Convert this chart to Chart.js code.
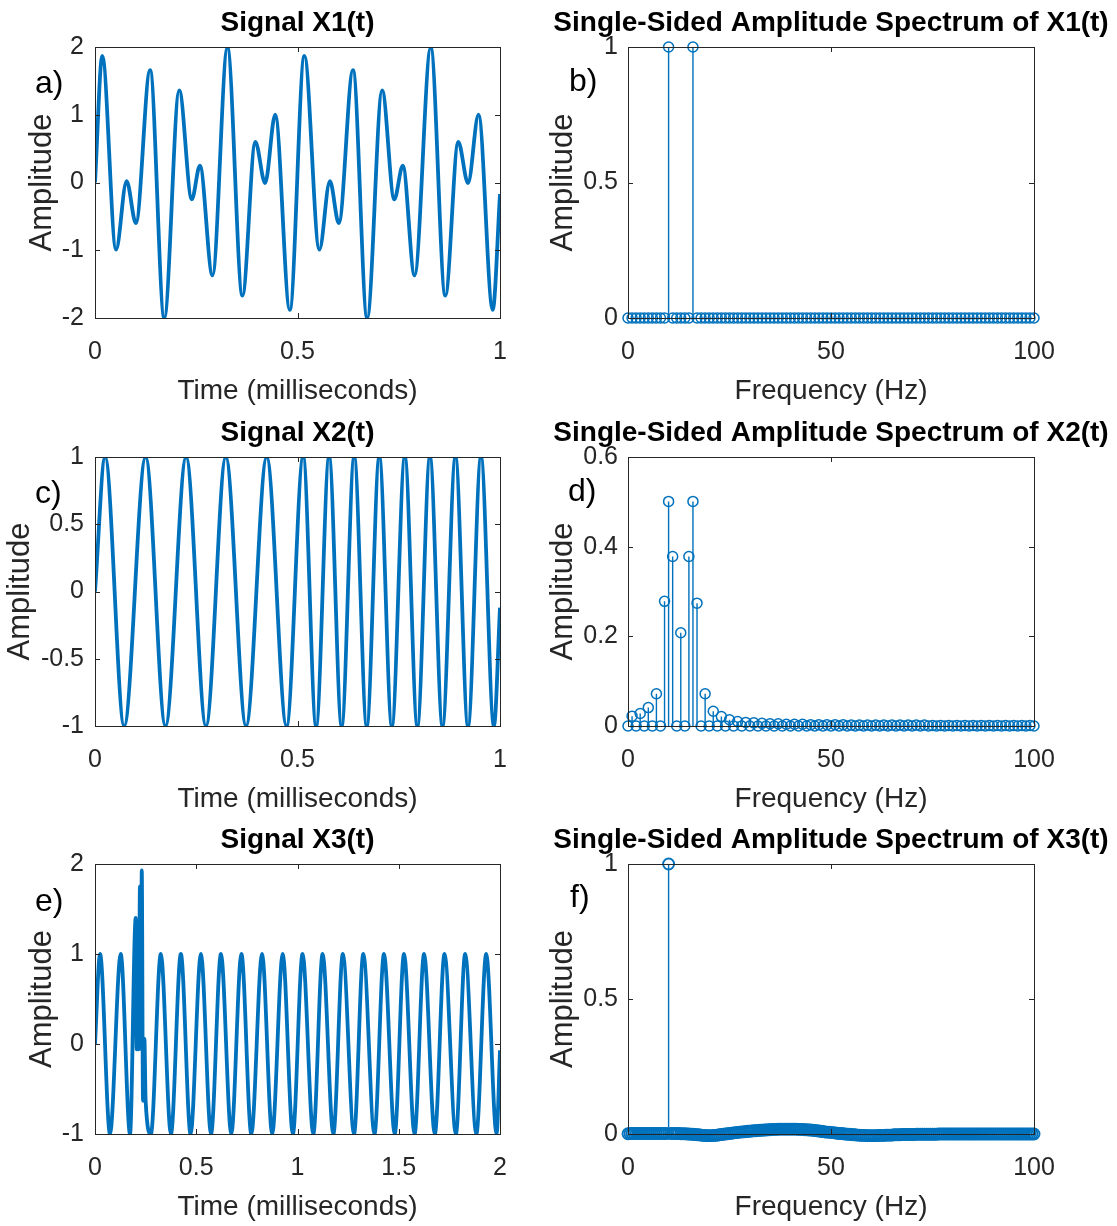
<!DOCTYPE html>
<html>
<head>
<meta charset="utf-8">
<script src="https://cdn.jsdelivr.net/npm/chart.js@4.4.0/dist/chart.umd.min.js"></script>
<style>
  html, body { margin: 0; padding: 0; background: #fff; }
  body { width: 1117px; height: 1226px; position: relative; overflow: hidden; font-family: 'Liberation Sans', Arial, sans-serif; }
  canvas { position: absolute; }
  .tag { position: absolute; font-size: 32px; line-height: 32px; color: #000; }
</style>
</head>
<body>
<canvas id="pa" width="595" height="410" style="left:0px;top:0px"></canvas>
<canvas id="pb" width="572" height="410" style="left:545px;top:0px"></canvas>
<canvas id="pc" width="595" height="408" style="left:0px;top:410px"></canvas>
<canvas id="pd" width="572" height="408" style="left:545px;top:410px"></canvas>
<canvas id="pe" width="595" height="409" style="left:0px;top:817px"></canvas>
<canvas id="pf" width="572" height="409" style="left:545px;top:817px"></canvas>
<div class="tag" style="left:35px;top:66px">a)</div>
<div class="tag" style="left:569px;top:64px">b)</div>
<div class="tag" style="left:35px;top:476px">c)</div>
<div class="tag" style="left:568px;top:474px">d)</div>
<div class="tag" style="left:35px;top:884px">e)</div>
<div class="tag" style="left:570px;top:880px">f)</div>
<script>
// signal X1(t): turning points (time in ms)
const x1Time = [0, 0.018, 0.052, 0.078, 0.101, 0.136, 0.171, 0.208, 0.239, 0.259, 0.29, 0.327, 0.364, 0.396, 0.42, 0.445, 0.481,
                0.517, 0.554, 0.58, 0.602, 0.637, 0.672, 0.709, 0.739, 0.76, 0.789, 0.829, 0.865, 0.897, 0.921, 0.947, 0.982, 1.0];
const x1Amp  = [0, 1.87, -0.99, 0.02, -0.6, 1.66, -2.0, 1.36, -0.25, 0.25, -1.37, 1.99, -1.67, 0.6, -0.01, 1.0, -1.88,
                1.87, -0.99, 0.02, -0.6, 1.66, -2.0, 1.36, -0.25, 0.25, -1.37, 1.99, -1.67, 0.6, -0.01, 1.0, -1.88, -0.17];

// signal X2(t)
const x2Time = [0, 0.025, 0.072, 0.125, 0.174, 0.225, 0.274, 0.323, 0.373, 0.424, 0.473, 0.514, 0.546, 0.578, 0.609,
                0.64, 0.671, 0.702, 0.733, 0.765, 0.796, 0.827, 0.858, 0.89, 0.921, 0.953, 0.985, 1.0];
const x2Amp  = [0, 1, -1, 1, -1, 1, -1, 1, -1, 1, -1, 1, -1, 1, -1,
                1, -1, 1, -1, 1, -1, 1, -1, 1, -1, 1, -1, -0.12];

// signal X3(t), with the burst near 0.2 ms
const x3Time = [0, 0.025, 0.074, 0.127, 0.173,
                0.201, 0.206, 0.211, 0.216, 0.222, 0.226, 0.231, 0.237, 0.244, 0.25,
                0.276, 0.325, 0.375, 0.424, 0.472, 0.523, 0.573, 0.622, 0.673, 0.723, 0.772, 0.825, 0.875, 0.927, 0.977,
                1.025, 1.078, 1.124, 1.177, 1.224, 1.279, 1.325, 1.38, 1.427, 1.48, 1.526, 1.578, 1.625, 1.678, 1.726,
                1.782, 1.828, 1.883, 1.932, 1.983, 2.0];
const x3Amp  = [0, 1, -1, 1, -1,
                1.4, -0.06, 1.36, -0.06, 1.75, -0.05, 1.93, -0.63, 0.06, -0.63,
                -1, 1, -1, 1, -1, 1, -1, 1, -1, 1, -1, 1, -1, 1, -1,
                1, -1, 1, -1, 1, -1, 1, -1, 1, -1, 1, -1, 1, -1, 1,
                -1, 1, -1, 1, -1, -0.07];

// spectrum bins (Hz)
const freq1Hz = [0, 1, 2, 3, 4, 5, 6, 7, 8, 9, 10, 11, 12, 13, 14, 15, 16, 17, 18, 19,
                 20, 21, 22, 23, 24, 25, 26, 27, 28, 29, 30, 31, 32, 33, 34, 35, 36, 37, 38, 39,
                 40, 41, 42, 43, 44, 45, 46, 47, 48, 49, 50, 51, 52, 53, 54, 55, 56, 57, 58, 59,
                 60, 61, 62, 63, 64, 65, 66, 67, 68, 69, 70, 71, 72, 73, 74, 75, 76, 77, 78, 79,
                 80, 81, 82, 83, 84, 85, 86, 87, 88, 89, 90, 91, 92, 93, 94, 95, 96, 97, 98, 99, 100];
const freqHalfHz = [0, 0.5, 1, 1.5, 2, 2.5, 3, 3.5, 4, 4.5, 5, 5.5, 6, 6.5, 7, 7.5, 8, 8.5, 9, 9.5,
                    10, 10.5, 11, 11.5, 12, 12.5, 13, 13.5, 14, 14.5, 15, 15.5, 16, 16.5, 17, 17.5, 18, 18.5, 19, 19.5,
                    20, 20.5, 21, 21.5, 22, 22.5, 23, 23.5, 24, 24.5, 25, 25.5, 26, 26.5, 27, 27.5, 28, 28.5, 29, 29.5,
                    30, 30.5, 31, 31.5, 32, 32.5, 33, 33.5, 34, 34.5, 35, 35.5, 36, 36.5, 37, 37.5, 38, 38.5, 39, 39.5,
                    40, 40.5, 41, 41.5, 42, 42.5, 43, 43.5, 44, 44.5, 45, 45.5, 46, 46.5, 47, 47.5, 48, 48.5, 49, 49.5,
                    50, 50.5, 51, 51.5, 52, 52.5, 53, 53.5, 54, 54.5, 55, 55.5, 56, 56.5, 57, 57.5, 58, 58.5, 59, 59.5,
                    60, 60.5, 61, 61.5, 62, 62.5, 63, 63.5, 64, 64.5, 65, 65.5, 66, 66.5, 67, 67.5, 68, 68.5, 69, 69.5,
                    70, 70.5, 71, 71.5, 72, 72.5, 73, 73.5, 74, 74.5, 75, 75.5, 76, 76.5, 77, 77.5, 78, 78.5, 79, 79.5,
                    80, 80.5, 81, 81.5, 82, 82.5, 83, 83.5, 84, 84.5, 85, 85.5, 86, 86.5, 87, 87.5, 88, 88.5, 89, 89.5,
                    90, 90.5, 91, 91.5, 92, 92.5, 93, 93.5, 94, 94.5, 95, 95.5, 96, 96.5, 97, 97.5, 98, 98.5, 99, 99.5, 100];

// single-sided amplitude spectra
const x1Spec = [0, 0, 0, 0, 0, 0, 0, 0, 0, 0,  1, 0, 0, 0, 0, 0, 1, 0, 0, 0,
                0, 0, 0, 0, 0, 0, 0, 0, 0, 0,  0, 0, 0, 0, 0, 0, 0, 0, 0, 0,
                0, 0, 0, 0, 0, 0, 0, 0, 0, 0,  0, 0, 0, 0, 0, 0, 0, 0, 0, 0,
                0, 0, 0, 0, 0, 0, 0, 0, 0, 0,  0, 0, 0, 0, 0, 0, 0, 0, 0, 0,
                0, 0, 0, 0, 0, 0, 0, 0, 0, 0,  0, 0, 0, 0, 0, 0, 0, 0, 0, 0, 0];
const x2Spec = [0, 0.022, 0, 0.028, 0, 0.041, 0, 0.072, 0, 0.278,
                0.501, 0.378, 0, 0.208, 0, 0.378, 0.501, 0.274, 0, 0.072,
                0, 0.033, 0, 0.021, 0, 0.014, 0, 0.010, 0, 0.008,
                0, 0.007, 0, 0.006, 0, 0.005, 0, 0.005, 0, 0.004,
                0, 0.004, 0, 0.004, 0, 0.003, 0, 0.003, 0, 0.003,
                0, 0.003, 0, 0.003, 0, 0.002, 0, 0.002, 0, 0.002,
                0, 0.002, 0, 0.002, 0, 0.002, 0, 0.002, 0, 0.002,
                0, 0.002, 0, 0.002, 0, 0.001, 0, 0.001, 0, 0.001,
                0, 0.001, 0, 0.001, 0, 0.001, 0, 0.001, 0, 0.001,
                0, 0.001, 0, 0.001, 0, 0.001, 0, 0.001, 0, 0.001, 0];
const x3Spec = [0.001, 0.002, 0.002, 0.002, 0.002, 0.002, 0.002, 0.002, 0.002, 0.002,
                0.002, 0.002, 0.002, 0.002, 0.002, 0.002, 0.002, 0.002, 0.002, 0.002,
                1.0, 0.002, 0.002, 0.002, 0.002, 0.002, 0.001, 0.001, 0.001, 0.0,
                0.0, -0.001, -0.001, -0.002, -0.003, -0.003, -0.004, -0.005, -0.005, -0.006,
                -0.006, -0.006, -0.005, -0.005, -0.004, -0.003, -0.002, -0.001, 0.0, 0.001,
                0.002, 0.003, 0.004, 0.005, 0.006, 0.007, 0.008, 0.008, 0.009, 0.010,
                0.010, 0.011, 0.012, 0.012, 0.013, 0.014, 0.014, 0.015, 0.015, 0.016,
                0.016, 0.017, 0.017, 0.017, 0.018, 0.018, 0.018, 0.018, 0.018, 0.018,
                0.018, 0.018, 0.018, 0.018, 0.017, 0.017, 0.017, 0.016, 0.016, 0.015,
                0.015, 0.014, 0.013, 0.012, 0.011, 0.010, 0.009, 0.008, 0.007, 0.007,
                0.006, 0.005, 0.004, 0.003, 0.002, 0.002, 0.001, 0.0, -0.001, -0.001,
                -0.002, -0.003, -0.003, -0.004, -0.004, -0.005, -0.005, -0.005, -0.006, -0.006,
                -0.006, -0.006, -0.006, -0.005, -0.005, -0.005, -0.005, -0.004, -0.004, -0.004,
                -0.004, -0.003, -0.003, -0.003, -0.003, -0.002, -0.002, -0.002, -0.002, -0.002,
                -0.002, -0.002, -0.001, -0.001, -0.001, -0.001, -0.001, -0.001, -0.001, -0.001,
                -0.001, -0.001, -0.001, 0, 0, 0, 0, 0, 0, 0,
                0, 0, 0, 0, 0, 0, 0, 0, 0, 0,
                0, 0, 0, 0, 0, 0, 0, 0, 0, 0,
                0, 0, 0, 0, 0, 0, 0, 0, 0, 0,
                0, 0, 0, 0, 0, 0, 0, 0, 0, 0, 0];

// tick values
const ticksTime1 = [0, 0.5, 1];
const ticksTime2 = [0, 0.5, 1, 1.5, 2];
const ticksFreq = [0, 50, 100];
const ticksAmpA = [-2, -1, 0, 1, 2];
const ticksAmpC = [-1, -0.5, 0, 0.5, 1];
const ticksAmpE = [-1, 0, 1, 2];
const ticksSpecUnit = [0, 0.5, 1];
const ticksSpecD = [0, 0.2, 0.4, 0.6];

const FONT = "'Liberation Sans', Arial, sans-serif";
const BLUE = '#0072BD';
const AXIS = '#262626';

// matlab style box with inward ticks on all four sides
const boxPlugin = {
    id: 'matlabBox',
    afterDraw(chart) {
        const { ctx, chartArea: a, scales } = chart;
        const tl = 5;
        ctx.save();
        ctx.strokeStyle = AXIS;
        ctx.lineWidth = 1;
        ctx.strokeRect(Math.round(a.left) + 0.5, Math.round(a.top) + 0.5,
                       Math.round(a.right - a.left), Math.round(a.bottom - a.top));
        ctx.beginPath();
        scales.x.ticks.forEach(t => {
            const px = Math.round(scales.x.getPixelForValue(t.value)) + 0.5;
            ctx.moveTo(px, a.bottom); ctx.lineTo(px, a.bottom - tl);
            ctx.moveTo(px, a.top); ctx.lineTo(px, a.top + tl);
        });
        scales.y.ticks.forEach(t => {
            const py = Math.round(scales.y.getPixelForValue(t.value)) + 0.5;
            ctx.moveTo(a.left, py); ctx.lineTo(a.left + tl, py);
            ctx.moveTo(a.right, py); ctx.lineTo(a.right - tl, py);
        });
        ctx.stroke();
        ctx.restore();
    }
};

function signalSet(time, amp) {
    return [{
        data: time.map((t, i) => ({ x: t, y: amp[i] })),
        borderColor: BLUE,
        borderWidth: 3.8,
        pointRadius: 0,
        cubicInterpolationMode: 'monotone'
    }];
}

function stemSets(freq, vals, r, bw) {
    const stems = [];
    freq.forEach((f, i) => { stems.push({ x: f, y: 0 }, { x: f, y: vals[i] }, { x: f, y: null }); });
    return [
        {
            data: freq.map((f, i) => ({ x: f, y: vals[i] })),
            showLine: false,
            pointRadius: r,
            pointHoverRadius: r,
            pointBorderWidth: bw,
            pointBorderColor: BLUE,
            pointBackgroundColor: 'rgba(0,0,0,0)',
            clip: false
        },
        {
            data: stems,
            borderColor: BLUE,
            borderWidth: 1.4,
            pointRadius: 0,
            spanGaps: false,
            clip: false
        }
    ];
}

function panel(id, cfg) {
    const canvas = document.getElementById(id);
    const xH = 92;
    const fixTicks = list => scale => { scale.ticks = list.map(v => ({ value: v })); };
    return new Chart(canvas, {
        type: 'line',
        data: { datasets: cfg.datasets },
        options: {
            responsive: false,
            animation: false,
            devicePixelRatio: 1,
            layout: { padding: 0 },
            plugins: {
                legend: { display: false },
                tooltip: { enabled: false },
                title: {
                    display: true,
                    text: cfg.title,
                    color: '#000',
                    font: { family: FONT, size: 28, weight: 'bold', lineHeight: 1.2 },
                    padding: { top: 6.5, bottom: 6.9 }
                }
            },
            scales: {
                x: {
                    type: 'linear',
                    min: cfg.xMin, max: cfg.xMax,
                    afterBuildTicks: fixTicks(cfg.xTicks),
                    afterFit: s => { s.height = xH; },
                    grid: { display: false, drawTicks: false },
                    border: { display: false },
                    ticks: {
                        autoSkip: false, maxRotation: 0, padding: 19,
                        color: AXIS, font: { family: FONT, size: 25 },
                        callback: v => String(v)
                    },
                    title: {
                        display: true, text: cfg.xTitle, color: AXIS,
                        font: { family: FONT, size: 28, lineHeight: 1.2 }, padding: 2
                    }
                },
                y: {
                    min: cfg.yMin, max: cfg.yMax,
                    afterBuildTicks: fixTicks(cfg.yTicks),
                    afterFit: s => { s.width = cfg.yW; },
                    grid: { display: false, drawTicks: false },
                    border: { display: false },
                    ticks: {
                        autoSkip: false, padding: cfg.yPad,
                        color: AXIS, font: { family: FONT, size: 25 },
                        callback: v => String(v)
                    },
                    title: {
                        display: true, text: 'Amplitude', color: AXIS,
                        font: { family: FONT, size: 31, lineHeight: 1.2 }, padding: cfg.yTitlePad
                    }
                },
                // empty right axis, only reserves room so the title centres over the plot
                yRight: {
                    position: 'right',
                    afterFit: s => { s.width = cfg.yW; },
                    grid: { display: false, drawTicks: false },
                    border: { display: false },
                    ticks: { display: false }
                }
            }
        },
        plugins: [boxPlugin]
    });
}

const leftCol = { yW: 95, yPad: 11, yTitlePad: 24, xTitle: 'Time (milliseconds)' };
const rightCol = { yW: 83, yPad: 10, yTitlePad: 0, xTitle: 'Frequency (Hz)', xMin: 0, xMax: 100, xTicks: ticksFreq };

panel('pa', { ...leftCol, title: 'Signal X1(t)', datasets: signalSet(x1Time, x1Amp),
    xMin: 0, xMax: 1, xTicks: ticksTime1, yMin: -2, yMax: 2, yTicks: ticksAmpA });
panel('pb', { ...rightCol, title: 'Single-Sided Amplitude Spectrum of X1(t)', datasets: stemSets(freq1Hz, x1Spec, 5, 1.5),
    yMin: 0, yMax: 1, yTicks: ticksSpecUnit });
panel('pc', { ...leftCol, yTitlePad: 2, title: 'Signal X2(t)', datasets: signalSet(x2Time, x2Amp),
    xMin: 0, xMax: 1, xTicks: ticksTime1, yMin: -1, yMax: 1, yTicks: ticksAmpC });
panel('pd', { ...rightCol, title: 'Single-Sided Amplitude Spectrum of X2(t)', datasets: stemSets(freq1Hz, x2Spec, 5, 1.5),
    yMin: 0, yMax: 0.6, yTicks: ticksSpecD });
panel('pe', { ...leftCol, title: 'Signal X3(t)', datasets: signalSet(x3Time, x3Amp),
    xMin: 0, xMax: 2, xTicks: ticksTime2, yMin: -1, yMax: 2, yTicks: ticksAmpE });
panel('pf', { ...rightCol, title: 'Single-Sided Amplitude Spectrum of X3(t)', datasets: stemSets(freqHalfHz, x3Spec, 5.5, 1.9),
    yMin: 0, yMax: 1, yTicks: ticksSpecUnit });
</script>
</body>
</html>
